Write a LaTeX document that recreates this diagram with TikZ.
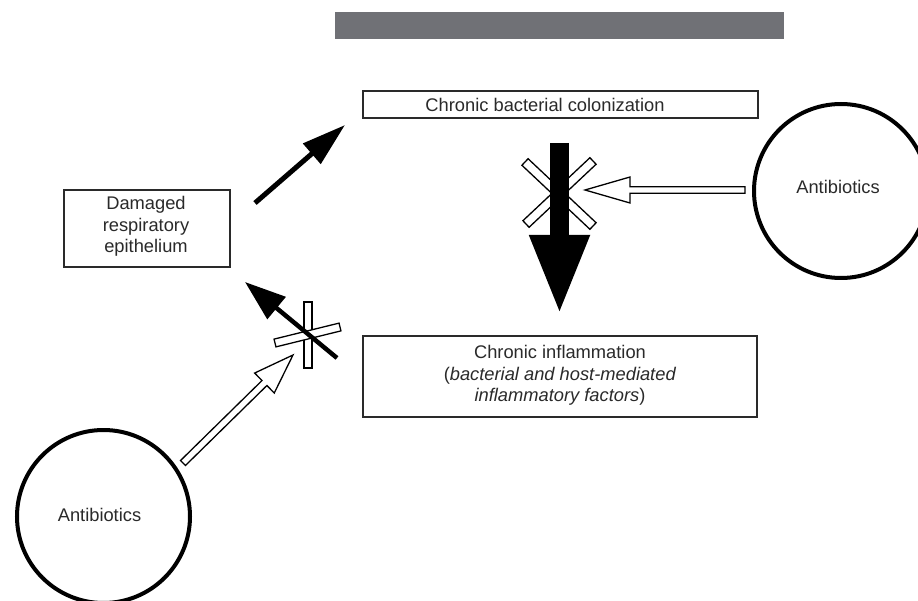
\documentclass[tikz,border=0pt]{standalone}
\usepackage{fontspec}
\setmainfont{Liberation Sans}
\usetikzlibrary{arrows.meta,calc}
\definecolor{bargray}{HTML}{707176}
\definecolor{inkgray}{HTML}{2A2A2A}
\newcommand{\hollowarrow}[5]{%
  \coordinate (hb) at ($(#2)!#4!(#1)$);
  \draw[hollow] ($(#1)!#3!90:(#2)$) -- ($(hb)!#3!90:(#2)$) -- ($(hb)!#5!90:(#2)$) -- (#2)
    -- ($(hb)!#5!-90:(#2)$) -- ($(hb)!#3!-90:(#2)$) -- ($(#1)!#3!-90:(#2)$) -- cycle;}
\newcommand{\hollowbar}[3]{%
  \draw[hollow] ($(#1)!#3!90:(#2)$) -- ($(#2)!#3!-90:(#1)$) -- ($(#2)!#3!90:(#1)$) -- ($(#1)!#3!-90:(#2)$) -- cycle;}
\tikzset{
  txt/.style={font=\fontsize{18.3}{21.5}\selectfont, text=inkgray, inner sep=0pt, align=center},
  box/.style={draw=inkgray, line width=1.5pt, inner sep=0pt, fill=white},
  ring/.style={draw=black, line width=4pt, circle, inner sep=0pt},
  hollow/.style={draw=black, fill=white, line width=1.3pt, line join=miter},
  blackarrow/.style={draw=black, line width=5pt}
}
\begin{document}
\begin{tikzpicture}[x=1pt,y=-1pt]
\useasboundingbox (0,0) rectangle (918,601);
\fill[white] (0,0) rectangle (918,601);
% top gray bar
\node[fill=bargray, inner sep=0pt, minimum width=449pt, minimum height=27pt] (bar) at (559.5,25.5) {};
% boxes
\node[box, minimum width=395pt, minimum height=27pt] (cbc) at (560.5,104.5) {};
\node[txt, anchor=base] (cbct) at (545,111.5) {Chronic bacterial colonization};
\node[box, minimum width=166pt, minimum height=77pt] (dre) at (147,228.5) {};
\node[txt] (dret) at (146,226.5) {Damaged\\respiratory\\epithelium};
\node[box, minimum width=394pt, minimum height=81pt] (ci) at (560,376.5) {};
\node[txt] (cit) at (560,375.3) {Chronic inflammation\\(\textit{bacterial and host-mediated}\\\textit{inflammatory factors})};
% circles
\node[ring, minimum size=174pt] (abR) at (841,191) {};
\node[txt, anchor=base] (abRt) at (838,194) {Antibiotics};
\node[ring, minimum size=173pt] (abL) at (103.5,516.5) {};
\node[txt, anchor=base] (abLt) at (99.5,521) {Antibiotics};
% coordinates
\coordinate (t1) at (255,203);
\coordinate (p1) at (345,125);
\coordinate (t2) at (559.5,143);
\coordinate (p2) at (559.5,315);
\coordinate (t3) at (745,190);
\coordinate (p3) at (585,190);
\coordinate (t4) at (183,463);
\coordinate (p4) at (293,355);
\coordinate (t5) at (337,358);
\coordinate (p5) at (245,282);
\coordinate (x1a) at (525,162);
\coordinate (x1b) at (593,226);
\coordinate (x2a) at (526,224);
\coordinate (x2b) at (593,161);
\coordinate (x3a) at (308,302);
\coordinate (x3b) at (308,368);
\coordinate (x4a) at (275,343);
\coordinate (x4b) at (340,327);
% arrow damaged -> colonization
\draw[blackarrow, -{Triangle[length=44pt,width=26pt]}] (t1) -- (p1);
% blocked colonization -> inflammation
\hollowbar{x1a}{x1b}{4.5pt}
\hollowbar{x2a}{x2b}{4.5pt}
\draw[draw=black, line width=19pt, -{Triangle[length=80pt,width=55pt]}] (t2) -- (p2);
\hollowarrow{t3}{p3}{3.2pt}{45pt}{13pt}
% blocked inflammation -> damaged
\hollowbar{x3a}{x3b}{4pt}
\hollowbar{x4a}{x4b}{4pt}
\draw[blackarrow, line width=4.5pt, -{Triangle[length=41pt,width=28pt]}] (t5) -- (p5);
\hollowarrow{t4}{p4}{3.5pt}{40pt}{14pt}
\end{tikzpicture}
\end{document}
